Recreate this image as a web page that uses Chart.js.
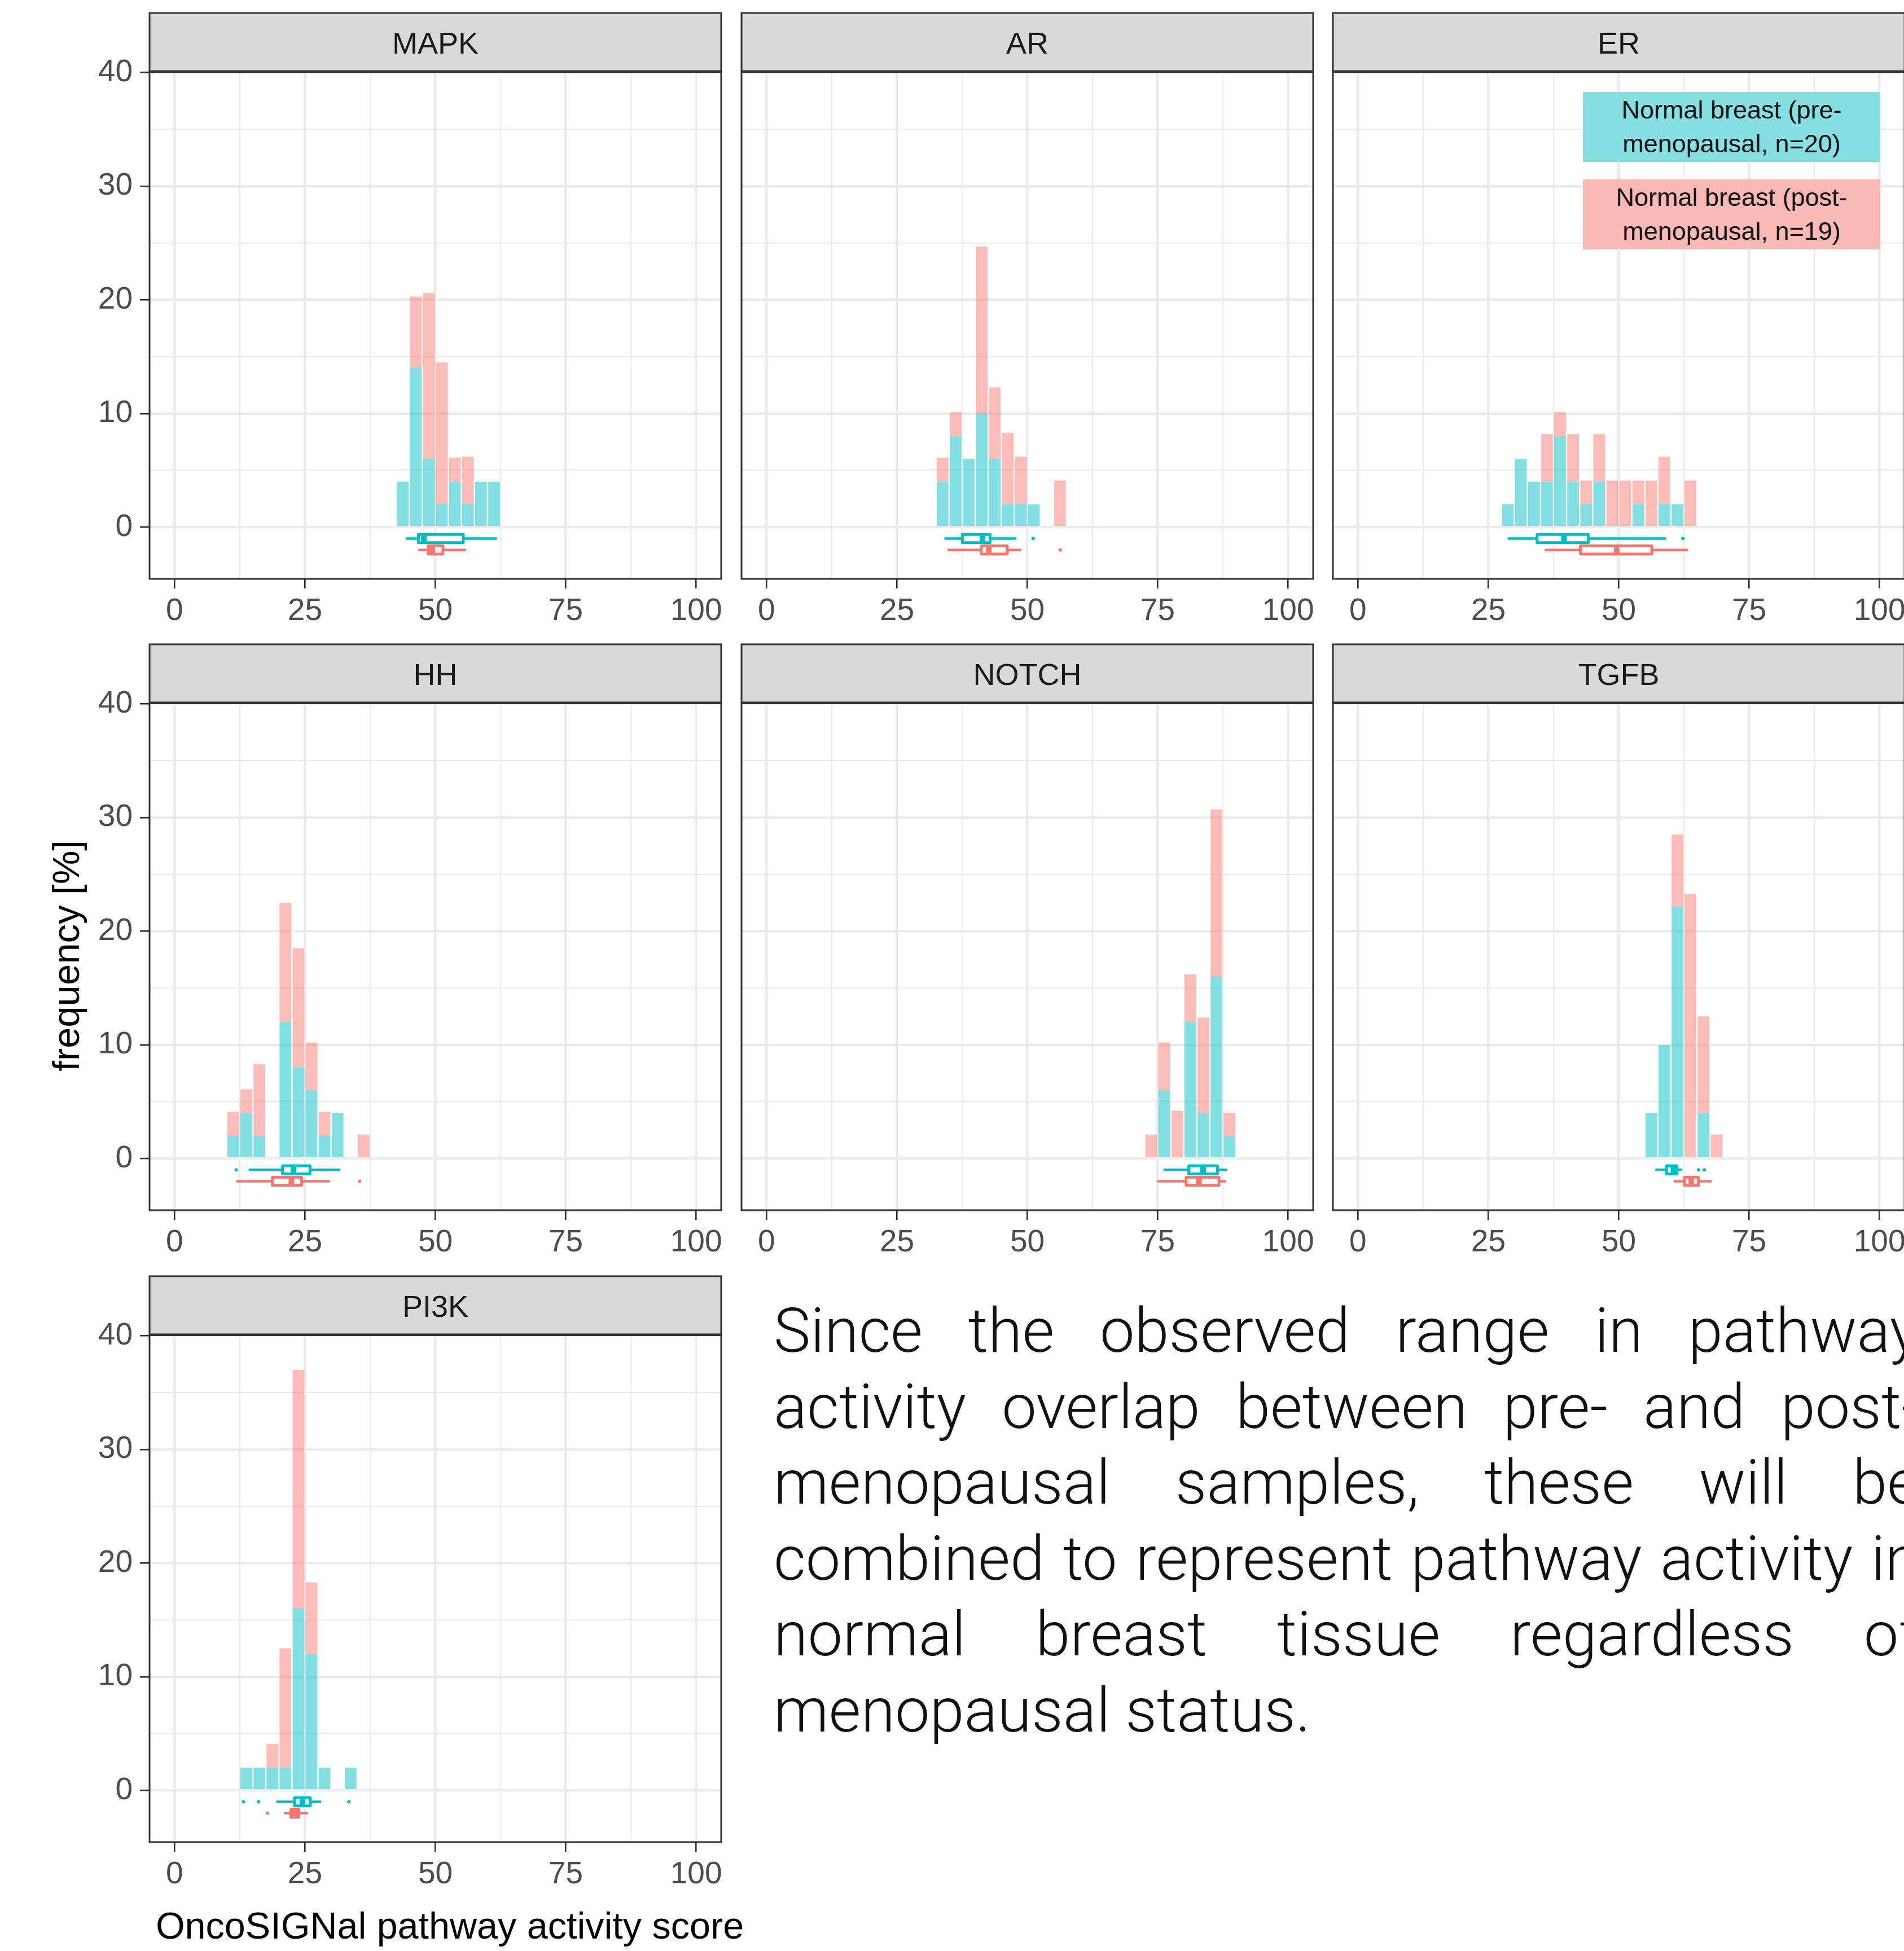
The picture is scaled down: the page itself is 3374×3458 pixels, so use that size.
<!DOCTYPE html>
<html><head><meta charset="utf-8">
<script src="https://cdn.jsdelivr.net/npm/chart.js@4.4.1/dist/chart.umd.min.js"></script>
<style>
html,body{margin:0;padding:0;width:3374px;height:3458px;overflow:hidden;background:#fff;}
canvas{position:absolute;}
.t{position:absolute;white-space:nowrap;font-family:'Liberation Sans',Arial,sans-serif;color:#000;line-height:1;}
.leg{position:absolute;left:2805px;width:527px;height:124px;display:flex;align-items:center;justify-content:center;text-align:center;font:45px 'Liberation Sans',Arial,sans-serif;line-height:60px;color:#111;}
.para{position:absolute;left:1371px;width:2030px;font-family:Roboto,'Open Sans',sans-serif;font-weight:300;font-size:110px;line-height:110px;color:#111;white-space:nowrap;}
.j{text-align:justify;text-align-last:justify;white-space:normal;}
</style></head><body>

<div class="t" style="left:116px;top:1694px;font-size:67px;transform:translate(-50%,-50%) rotate(-90deg);">frequency [%]</div>
<div class="t" style="left:797px;top:3380px;font-size:66.5px;transform:translateX(-50%);">OncoSIGNal pathway activity score</div>

<div class="para j" style="top:2304px;">Since the observed range in pathway</div>
<div class="para j" style="top:2439px;">activity overlap between pre- and post-</div>
<div class="para j" style="top:2573px;">menopausal samples, these will be</div>
<div class="para j" style="top:2708px;">combined to represent pathway activity in</div>
<div class="para j" style="top:2842px;">normal breast tissue regardless of</div>
<div class="para" style="top:2977px;">menopausal status.</div>

<script>
// ---------------- DATA ----------------
const PANEL_NAMES = ['MAPK', 'AR', 'ER', 'HH', 'NOTCH', 'TGFB', 'PI3K'];
const X_GRID = [0, 12.5, 25, 37.5, 50, 62.5, 75, 87.5, 100];
const X_TICKS = [0, 25, 50, 75, 100];
const Y_GRID = [0, 5, 10, 15, 20, 25, 30, 35, 40];
const Y_TICKS = [0, 10, 20, 30, 40];

// bin centres (bin width 2.5) and frequencies [%]
const MAPK_BINS = [43.75, 46.25, 48.75, 51.25, 53.75, 56.25, 58.75, 61.25];
const MAPK_PRE  = [4, 14, 6, 2, 4, 2, 4, 4];
const MAPK_POST = [0, 6.3, 14.6, 12.5, 2.1, 4.2, 0, 0];
const AR_BINS = [33.75, 36.25, 38.75, 41.25, 43.75, 46.25, 48.75, 51.25, 56.25];
const AR_PRE  = [4, 8, 6, 10, 6, 2, 2, 2, 0];
const AR_POST = [2.1, 2.1, 0, 14.7, 6.3, 6.3, 4.2, 0, 4.1];
const ER_BINS = [28.75, 31.25, 33.75, 36.25, 38.75, 41.25, 43.75, 46.25, 48.75, 51.25, 53.75, 56.25, 58.75, 61.25, 63.75];
const ER_PRE  = [2, 6, 4, 4, 8, 4, 2, 4, 0, 0, 2, 0, 2, 2, 0];
const ER_POST = [0, 0, 0, 4.2, 2.1, 4.2, 2.1, 4.2, 4.1, 4.1, 2.1, 4.1, 4.2, 0, 4.1];
const HH_BINS = [11.25, 13.75, 16.25, 21.25, 23.75, 26.25, 28.75, 31.25, 36.25];
const HH_PRE  = [2, 4, 2, 12, 8, 6, 2, 4, 0];
const HH_POST = [2.1, 2.1, 6.3, 10.5, 10.5, 4.2, 2.1, 0, 2.1];
const NOTCH_BINS = [73.75, 76.25, 78.75, 81.25, 83.75, 86.25, 88.75];
const NOTCH_PRE  = [0, 6, 0, 12, 4, 16, 2];
const NOTCH_POST = [2.1, 4.2, 4.2, 4.2, 8.4, 14.7, 2.0];
const TGFB_BINS = [56.25, 58.75, 61.25, 63.75, 66.25, 68.75];
const TGFB_PRE  = [4, 10, 22.1, 0, 4, 0];
const TGFB_POST = [0, 0, 6.4, 23.3, 8.5, 2.1];
const PI3K_BINS = [13.75, 16.25, 18.75, 21.25, 23.75, 26.25, 28.75, 33.75];
const PI3K_PRE  = [2, 2, 2, 2, 16, 12, 2, 2];
const PI3K_POST = [0, 0, 2.1, 10.5, 21, 6.3, 0, 0];

// boxplot stats: [lower whisker, Q1, median, Q3, upper whisker], plus outliers
const MAPK_BOX_PRE = [44.3, 46.75, 47.8, 55.35, 61.8];   const MAPK_OUT_PRE = [];
const MAPK_BOX_POST = [46.7, 48.6, 49.4, 51.45, 55.9];   const MAPK_OUT_POST = [];
const AR_BOX_PRE = [34.1, 37.55, 41.4, 42.85, 47.9];     const AR_OUT_PRE = [51.1];
const AR_BOX_POST = [34.7, 41.2, 42.6, 46.15, 48.8];     const AR_OUT_POST = [56.3];
const ER_BOX_PRE = [28.7, 34.35, 39.5, 44.15, 59.1];     const ER_OUT_PRE = [62.3];
const ER_BOX_POST = [35.8, 42.65, 49.6, 56.35, 63.3];    const ER_OUT_POST = [];
const HH_BOX_PRE = [14.2, 20.7, 22.8, 25.95, 31.8];      const HH_OUT_PRE = [11.8];
const HH_BOX_POST = [11.8, 18.75, 22.4, 24.35, 29.8];    const HH_OUT_POST = [35.5];
const NOTCH_BOX_PRE = [76.1, 80.95, 83.7, 86.45, 88.3];  const NOTCH_OUT_PRE = [];
const NOTCH_BOX_POST = [74.9, 80.45, 82.9, 86.75, 88.1]; const NOTCH_OUT_POST = [];
const TGFB_BOX_PRE = [57.0, 59.15, 60.5, 61.15, 62.2];   const TGFB_OUT_PRE = [65.3, 66.4];
const TGFB_BOX_POST = [60.5, 62.6, 63.9, 65.25, 67.8];   const TGFB_OUT_POST = [];
const PI3K_BOX_PRE = [19.5, 23.0, 24.5, 26.0, 28.1];     const PI3K_OUT_PRE = [13.2, 16.1, 33.4];
const PI3K_BOX_POST = [21.0, 22.3, 23.1, 23.8, 25.6];    const PI3K_OUT_POST = [17.8];

const BOX_Y_PRE = -1, BOX_Y_POST = -2;
const LEGEND_PRE = ['Normal breast (pre-', 'menopausal, n=20)'];
const LEGEND_POST = ['Normal breast (post-', 'menopausal, n=19)'];

const PANEL_DATA = {
  MAPK: [MAPK_BINS, MAPK_PRE, MAPK_POST, MAPK_BOX_PRE, MAPK_OUT_PRE, MAPK_BOX_POST, MAPK_OUT_POST],
  AR: [AR_BINS, AR_PRE, AR_POST, AR_BOX_PRE, AR_OUT_PRE, AR_BOX_POST, AR_OUT_POST],
  ER: [ER_BINS, ER_PRE, ER_POST, ER_BOX_PRE, ER_OUT_PRE, ER_BOX_POST, ER_OUT_POST],
  HH: [HH_BINS, HH_PRE, HH_POST, HH_BOX_PRE, HH_OUT_PRE, HH_BOX_POST, HH_OUT_POST],
  NOTCH: [NOTCH_BINS, NOTCH_PRE, NOTCH_POST, NOTCH_BOX_PRE, NOTCH_OUT_PRE, NOTCH_BOX_POST, NOTCH_OUT_POST],
  TGFB: [TGFB_BINS, TGFB_PRE, TGFB_POST, TGFB_BOX_PRE, TGFB_OUT_PRE, TGFB_BOX_POST, TGFB_OUT_POST],
  PI3K: [PI3K_BINS, PI3K_PRE, PI3K_POST, PI3K_BOX_PRE, PI3K_OUT_PRE, PI3K_BOX_POST, PI3K_OUT_POST]
};

// ---------------- LAYOUT / STYLE ----------------
const COL_LEFT = [265, 1314, 2362];
const ROW_TOP = [23, 1142, 2262];
const STRIP_H = 104.5, PANEL_W = 1013, AX_W = 150, AX_H = 110, PAD_T = 6, PAD_R = 12;
const CANVAS_H = 1119;
const PRE_COL = '#00BFC4', POST_COL = '#F8766D';
const FONT = "'Liberation Sans', Arial, sans-serif";
const BOX_HALF = 0.36;

Chart.defaults.font.family = FONT;

function drawBox(ctx, xs, ys, st, outs, yv, color) {
  const px = v => xs.getPixelForValue(v);
  const yc = ys.getPixelForValue(yv);
  const yt = ys.getPixelForValue(yv + BOX_HALF), yb = ys.getPixelForValue(yv - BOX_HALF);
  ctx.save();
  ctx.fillStyle = color;
  outs.forEach(o => { ctx.beginPath(); ctx.arc(px(o), yc, 3, 0, Math.PI * 2); ctx.fill(); });
  ctx.strokeStyle = color;
  ctx.lineWidth = 4.5; ctx.lineCap = 'butt';
  ctx.beginPath();
  ctx.moveTo(px(st[0]), yc); ctx.lineTo(px(st[1]), yc);
  ctx.moveTo(px(st[3]), yc); ctx.lineTo(px(st[4]), yc);
  ctx.stroke();
  ctx.fillStyle = '#fff'; ctx.lineJoin = 'round'; ctx.lineWidth = 5;
  ctx.beginPath(); ctx.rect(px(st[1]), yt, px(st[3]) - px(st[1]), yb - yt); ctx.fill(); ctx.stroke();
  ctx.lineWidth = 10;
  ctx.beginPath(); ctx.moveTo(px(st[2]), yt); ctx.lineTo(px(st[2]), yb); ctx.stroke();
  ctx.restore();
}

const panelPlugin = {
  id: 'panel',
  afterDatasetsDraw(chart, args, opts) {
    const ctx = chart.ctx, xs = chart.scales.x, ys = chart.scales.y;
    ctx.save();
    ctx.beginPath();
    const a = chart.chartArea;
    ctx.rect(a.left, a.top, a.right - a.left, a.bottom - a.top); ctx.clip();
    drawBox(ctx, xs, ys, opts.boxPre, opts.outPre, BOX_Y_PRE, PRE_COL);
    drawBox(ctx, xs, ys, opts.boxPost, opts.outPost, BOX_Y_POST, POST_COL);
    ctx.restore();
  },
  afterDraw(chart, args, opts) {
    const ctx = chart.ctx, a = chart.chartArea;
    ctx.save();
    ctx.strokeStyle = '#333333'; ctx.lineWidth = 3;
    ctx.strokeRect(a.left, a.top, a.right - a.left, a.bottom - a.top);
    ctx.fillStyle = '#D9D9D9';
    const st = a.top - STRIP_H, sb = a.top - 1.5;
    ctx.fillRect(a.left, st, a.right - a.left, sb - st);
    ctx.strokeRect(a.left, st, a.right - a.left, sb - st);
    ctx.fillStyle = '#1A1A1A';
    ctx.font = '54px ' + FONT;
    ctx.textAlign = 'center'; ctx.textBaseline = 'middle';
    ctx.fillText(opts.title, (a.left + a.right) / 2, (st + sb) / 2 + 6);
    ctx.restore();
  }
};

function gridOpts(majors, showTicks) {
  return {
    color: '#EBEBEB', offset: false,
    lineWidth: c => (c.tick && majors.includes(c.tick.value)) ? 4.5 : 2.3,
    drawTicks: true, tickLength: 17, tickWidth: 2.7,
    tickColor: c => (showTicks && c.tick && majors.includes(c.tick.value)) ? '#333333' : 'rgba(0,0,0,0)'
  };
}

PANEL_NAMES.forEach((name, i) => {
  const row = Math.floor(i / 3), col = i % 3;
  const firstCol = col === 0;
  const [bins, pre, post, boxPre, outPre, boxPost, outPost] = PANEL_DATA[name];
  const cv = document.createElement('canvas');
  cv.width = AX_W + PANEL_W + PAD_R; cv.height = CANVAS_H;
  cv.style.left = (COL_LEFT[col] - AX_W) + 'px';
  cv.style.top = (ROW_TOP[row] - PAD_T) + 'px';
  cv.style.width = cv.width + 'px'; cv.style.height = cv.height + 'px';
  document.body.appendChild(cv);
  new Chart(cv, {
    type: 'bar',
    data: {
      datasets: [
        { label: 'pre', data: bins.map((x, k) => ({ x: x, y: pre[k] })), backgroundColor: 'rgba(0,191,196,0.49)' },
        { label: 'post', data: bins.map((x, k) => ({ x: x, y: post[k] })), backgroundColor: 'rgba(248,118,109,0.49)' }
      ]
    },
    options: {
      responsive: false, animation: false, devicePixelRatio: 1,
      layout: { padding: { top: PAD_T + STRIP_H, left: 0, right: PAD_R, bottom: 0 } },
      datasets: { bar: { barPercentage: 0.9, categoryPercentage: 1, borderWidth: 0 } },
      plugins: {
        legend: { display: false }, tooltip: { enabled: false },
        panel: { title: name, boxPre, outPre, boxPost, outPost }
      },
      scales: {
        x: {
          type: 'linear', stacked: true, offset: false, min: -4.8, max: 104.8,
          afterBuildTicks: s => { s.ticks = X_GRID.map(v => ({ value: v })); },
          afterFit: s => { s.height = AX_H; },
          grid: gridOpts(X_TICKS, true), border: { display: false },
          ticks: { font: { size: 55 }, color: '#4D4D4D', padding: 8, maxRotation: 0, minRotation: 0, autoSkip: false,
                   callback: v => X_TICKS.includes(v) ? String(v) : '' }
        },
        y: {
          type: 'linear', stacked: true, offset: false, min: -4.55, max: 40.05,
          afterBuildTicks: s => { s.ticks = Y_GRID.map(v => ({ value: v })); },
          afterFit: s => { s.width = AX_W; },
          grid: gridOpts(Y_TICKS, firstCol), border: { display: false },
          ticks: { font: { size: 55 }, color: '#4D4D4D', padding: 13, autoSkip: false,
                   callback: v => (firstCol && Y_TICKS.includes(v)) ? String(v) : '' }
        }
      }
    },
    plugins: [panelPlugin]
  });
});

// legend boxes (real text)
function addLegend(lines, top, bg) {
  const d = document.createElement('div');
  d.className = 'leg';
  d.style.top = top + 'px';
  d.style.background = bg;
  d.innerHTML = lines.join('<br>');
  document.body.appendChild(d);
}
addLegend(LEGEND_PRE, 163, '#86DFE1');
addLegend(LEGEND_POST, 318, '#F9B9B5');
</script>
</body></html>
